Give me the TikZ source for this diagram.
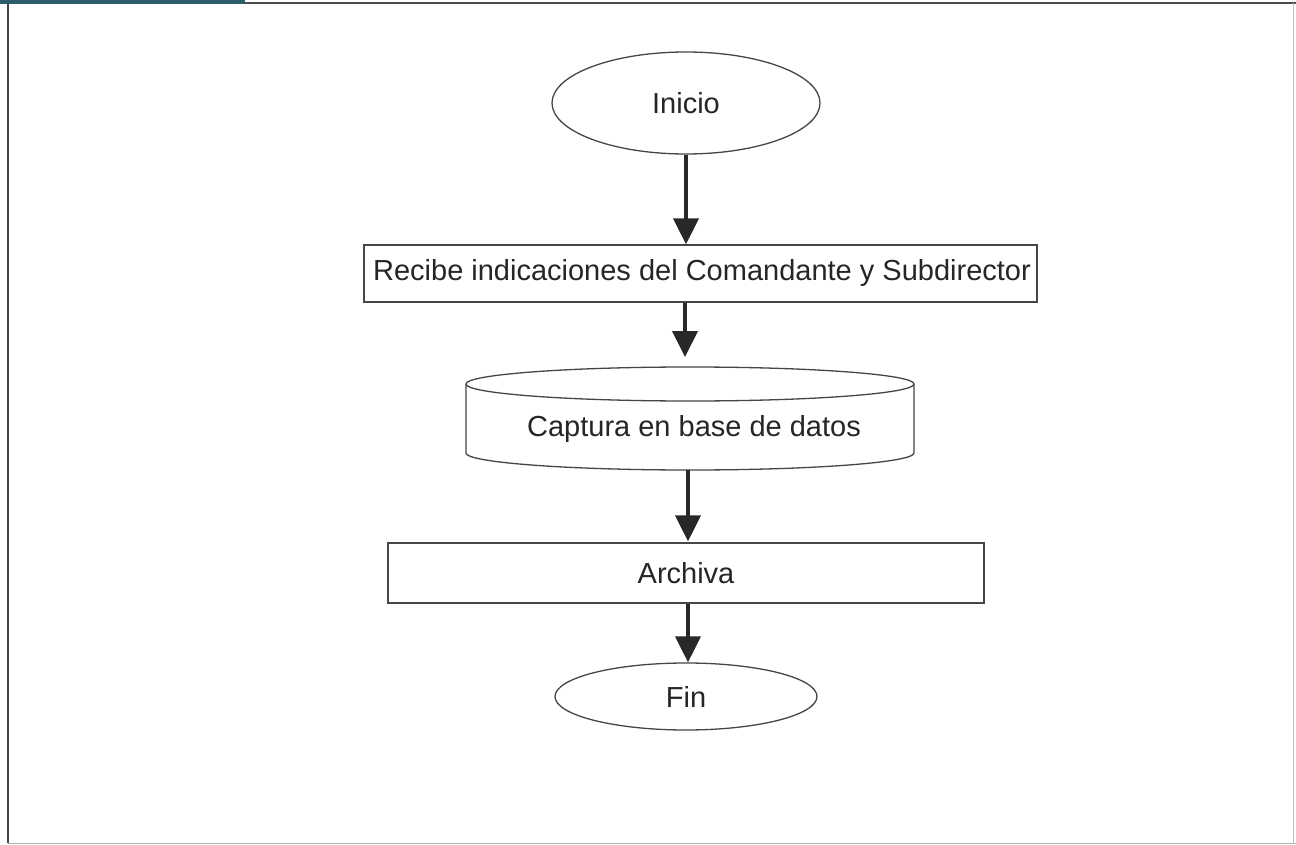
\documentclass[tikz,border=0pt]{standalone}
\usepackage{fontspec}
\setmainfont{Liberation Sans}
\usetikzlibrary{arrows.meta,shapes.geometric}
\definecolor{teal1}{RGB}{44,92,108}
\definecolor{edge}{RGB}{70,70,70}
\definecolor{arr}{RGB}{40,40,40}
\begin{document}
\begin{tikzpicture}[x=1pt,y=-1pt,
  lbl/.style={font=\fontsize{29}{34}\selectfont, text=black!85, inner sep=0pt},
  outline/.style={draw=edge, line width=1.3pt},
  flow/.style={draw=arr, line width=4pt, -{Triangle[width=25pt,length=26pt]}}]
\useasboundingbox (0,0) rectangle (1296,845);
\fill[white] (0,0) rectangle (1296,845);
% frame
\draw[draw=edge, line width=1.2pt] (8,3) -- (8,843);
\draw[draw=black!70, line width=1.6pt] (0,3) -- (1296,3);
\draw[draw=black!25, line width=1pt] (1293,3) -- (1293,843);
\draw[draw=black!30, line width=1pt] (8,843) -- (1296,843);
\fill[teal1] (0,0) rectangle (245,4.5);
% Inicio
\node[ellipse, outline, minimum width=268pt, minimum height=102pt, inner sep=0pt] (ini) at (686,103) {};
\node[lbl] (iniT) at (686,103) {Inicio};
% Recibe
\node[outline, minimum width=673pt, minimum height=57pt, inner sep=0pt] (rec) at (700.5,273.5) {};
\node[lbl] (recT) at (702,273.5) {Recibe indicaciones del Comandante y Subdirector};
% Cylinder
\draw[outline] (466,384) arc[start angle=180, end angle=-180, x radius=224, y radius=17];
\draw[outline] (466,384) -- (466,453) arc[start angle=180, end angle=0, x radius=224, y radius=17] -- (914,384);
\coordinate (cylTop) at (690,367);
\coordinate (cylBot) at (690,470);
\node[lbl] (capT) at (694,429) {Captura en base de datos};
% Archiva
\node[outline, minimum width=596pt, minimum height=60pt, inner sep=0pt] (arc) at (686,573) {};
\node[lbl] (arcT) at (686,573) {Archiva};
% Fin
\node[ellipse, outline, minimum width=262pt, minimum height=67pt, inner sep=0pt] (fin) at (686,696.5) {};
\node[lbl] (finT) at (686,697) {Fin};
% arrows
\draw[flow] (ini.south) -- (ini.south |- rec.north);
\draw[flow] (rec.south -| 685,0) -- ([yshift=10pt]cylTop -| 685,0);
\draw[flow] (cylBot -| 688,0) -- ([yshift=1pt]arc.north -| 688,0);
\draw[flow] (arc.south -| 688,0) -- (fin.north -| 688,0);
\end{tikzpicture}
\end{document}
